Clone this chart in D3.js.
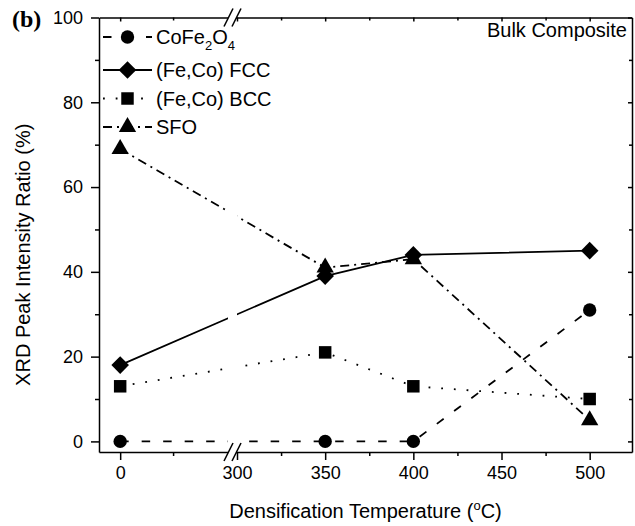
<!DOCTYPE html>
<html>
<head>
<meta charset="utf-8">
<script src="https://cdn.jsdelivr.net/npm/d3@7"></script>
<style>
  body { margin: 0; background: #fff; }
  svg { display: block; }
  text { font-family: "Liberation Sans", Arial, sans-serif; fill: #000; }
</style>
</head>
<body>
<svg id="chart" width="635" height="526"></svg>
<script>
// Densification temperatures (°C) and phase peak-intensity ratios (%)
const temperatures = [0, 350, 400, 500];
const cofe2o4 = [0, 0, 0, 31];
const fccPhase = [18, 39, 44, 45];
const bccPhase = [13, 21, 13, 10];
const sfoPhase = [69, 41, 43, 5];

const xMajorTicks = [0, 300, 350, 400, 450, 500];
const xMinorTicks = [100, 325, 375, 425, 475];
const yMajorTicks = [0, 20, 40, 60, 80, 100];
const yMinorTicks = [10, 30, 50, 70, 90];

const svg = d3.select("#chart");
const plotLeft = 99, plotRight = 632, plotTop = 17.5, plotBottom = 452;

// Broken x-axis: a short 0–200 segment, then 300–524
const x = d3.scaleLinear()
  .domain([-40, 200, 300, 524])
  .range([plotLeft, 226, 237, plotRight]);
const y = d3.scaleLinear().domain([-2.5, 100]).range([plotBottom, plotTop]);

const series = [
  { label: [["CoFe", 0], ["2", 1], ["O", 0], ["4", 1]], values: cofe2o4, dash: "8.5,13", symbol: d3.symbolCircle, size: 140, rot: 0 },
  { label: [["(Fe,Co) FCC", 0]], values: fccPhase, dash: null, symbol: d3.symbolSquare, size: 155, rot: 45 },
  { label: [["(Fe,Co) BCC", 0]], values: bccPhase, dash: "1.8,10.9", symbol: d3.symbolSquare, size: 156, rot: 0 },
  { label: [["SFO", 0]], values: sfoPhase, dash: "9,5,2,5", symbol: d3.symbolTriangle, size: 130, rot: 0 }
];

// Clip so the data lines break across the axis break
const defs = svg.append("defs");
const clip = defs.append("clipPath").attr("id", "segments");
clip.append("rect").attr("x", plotLeft).attr("y", 0).attr("width", 228 - plotLeft).attr("height", 526);
clip.append("rect").attr("x", 237).attr("y", 0).attr("width", plotRight - 237).attr("height", 526);

// Data lines
const line = d3.line().x(d => x(d[0])).y(d => y(d[1]));
const lineG = svg.append("g").attr("clip-path", "url(#segments)");
series.forEach(s => {
  lineG.append("path")
    .datum(temperatures.map((t, i) => [t, s.values[i]]))
    .attr("d", line)
    .attr("fill", "none")
    .attr("stroke", "#000")
    .attr("stroke-width", 1.8)
    .attr("stroke-dasharray", s.dash);
});

// Markers
series.forEach(s => {
  svg.append("g").selectAll("path")
    .data(temperatures.map((t, i) => [t, s.values[i]]))
    .join("path")
    .attr("d", d3.symbol().type(s.symbol).size(s.size))
    .attr("transform", d => `translate(${x(d[0])},${y(d[1])}) rotate(${s.rot})`)
    .attr("fill", "#000");
});

// Axes
const axisStyle = g => {
  g.selectAll(".domain").attr("stroke-width", 1.5);
  g.selectAll(".tick line").attr("stroke-width", 1.5);
};
const fontTick = "18px";

svg.append("g").attr("transform", `translate(0,${plotBottom})`)
  .call(d3.axisBottom(x).tickValues(xMajorTicks).tickSize(8).tickSizeOuter(0).tickPadding(6).tickFormat(d => d))
  .call(axisStyle)
  .call(g => g.selectAll("text").style("font-size", fontTick).attr("font-family", null));
svg.append("g").attr("transform", `translate(0,${plotBottom})`)
  .call(d3.axisBottom(x).tickValues(xMinorTicks).tickSize(4).tickSizeOuter(0).tickFormat(""))
  .call(axisStyle)
  .call(g => g.select(".domain").remove());

svg.append("g").attr("transform", `translate(0,${plotTop})`)
  .call(d3.axisBottom(x).tickValues(xMajorTicks).tickSize(4).tickSizeOuter(0).tickFormat(""))
  .call(axisStyle);
svg.append("g").attr("transform", `translate(0,${plotTop})`)
  .call(d3.axisBottom(x).tickValues(xMinorTicks).tickSize(3).tickSizeOuter(0).tickFormat(""))
  .call(axisStyle)
  .call(g => g.select(".domain").remove());

svg.append("g").attr("transform", `translate(${plotLeft},0)`)
  .call(d3.axisLeft(y).tickValues(yMajorTicks).tickSize(8).tickSizeOuter(0).tickPadding(8).tickFormat(d => d))
  .call(axisStyle)
  .call(g => g.selectAll("text").style("font-size", fontTick).attr("font-family", null));
svg.append("g").attr("transform", `translate(${plotLeft},0)`)
  .call(d3.axisLeft(y).tickValues(yMinorTicks).tickSize(4).tickSizeOuter(0).tickFormat(""))
  .call(axisStyle)
  .call(g => g.select(".domain").remove());

svg.append("g").attr("transform", `translate(${plotRight},0)`)
  .call(d3.axisLeft(y).tickValues(yMajorTicks).tickSize(4).tickSizeOuter(0).tickFormat(""))
  .call(axisStyle);
svg.append("g").attr("transform", `translate(${plotRight},0)`)
  .call(d3.axisLeft(y).tickValues(yMinorTicks).tickSize(3).tickSizeOuter(0).tickFormat(""))
  .call(axisStyle)
  .call(g => g.select(".domain").remove());

// Axis break marks on top and bottom axes
[plotTop, plotBottom].forEach(yy => {
  svg.append("polygon")
    .attr("points", `${224},${yy + 9} ${232},${yy + 9} ${241},${yy - 9} ${233},${yy - 9}`)
    .attr("fill", "#fff");
  [228.5, 236.5].forEach(cx => {
    svg.append("line")
      .attr("x1", cx - 4.5).attr("y1", yy + 9)
      .attr("x2", cx + 4.5).attr("y2", yy - 9)
      .attr("stroke", "#000").attr("stroke-width", 1.5);
  });
});

// Legend
const legendRows = [37, 70, 98.5, 127];
series.forEach((s, i) => {
  const ly = legendRows[i];
  svg.append("line")
    .attr("x1", 103).attr("x2", 152).attr("y1", ly).attr("y2", ly)
    .attr("stroke", "#000").attr("stroke-width", 1.8)
    .attr("stroke-dasharray", s.dash);
  svg.append("path")
    .attr("d", d3.symbol().type(s.symbol).size(s.size)())
    .attr("transform", `translate(127.5,${ly}) rotate(${s.rot})`)
    .attr("fill", "#000");
  const t = svg.append("text").attr("x", 156).attr("y", ly).attr("dy", "0.35em")
    .style("font-size", "20px");
  s.label.forEach(([txt, sub], k) => {
    const ts = t.append("tspan").text(txt);
    if (sub) ts.style("font-size", "13px").attr("dy", 6);
    else if (k > 0) ts.attr("dy", -6);
  });
});

// Annotation and titles
svg.append("text").attr("x", plotRight - 5).attr("y", 37)
  .attr("text-anchor", "end").style("font-size", "20px").text("Bulk Composite");

svg.append("text").attr("x", 12).attr("y", 27)
  .style("font-family", "'Liberation Serif', 'Times New Roman', serif")
  .style("font-weight", "bold").style("font-size", "24px").text("(b)");

const xTitle = svg.append("text").attr("x", (plotLeft + plotRight) / 2).attr("y", 518)
  .attr("text-anchor", "middle").style("font-size", "20px");
xTitle.append("tspan").text("Densification Temperature (");
xTitle.append("tspan").text("o").style("font-size", "13px").attr("dy", -8);
xTitle.append("tspan").text("C)").attr("dy", 8);

svg.append("text")
  .attr("transform", `translate(30,${(plotTop + plotBottom) / 2 + 20}) rotate(-90)`)
  .attr("text-anchor", "middle").style("font-size", "20px")
  .text("XRD Peak Intensity Ratio (%)");
</script>
</body>
</html>
